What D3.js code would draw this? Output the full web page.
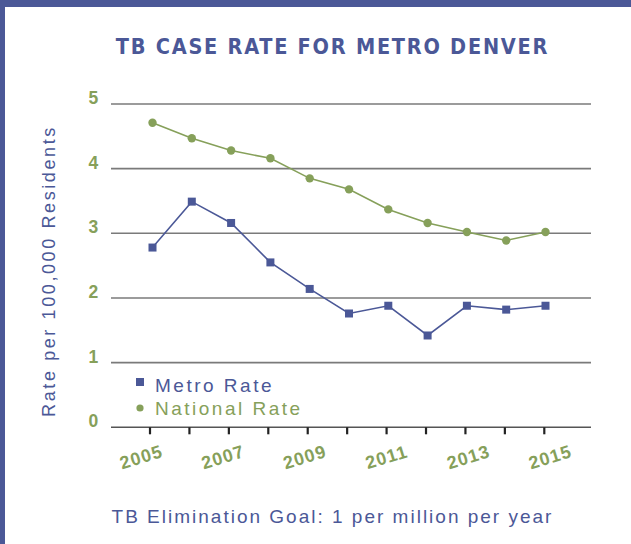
<!DOCTYPE html>
<html>
<head>
<meta charset="utf-8">
<script src="https://cdn.jsdelivr.net/npm/d3@7/dist/d3.min.js"></script>
<style>
  html, body { margin: 0; padding: 0; background: #fff; }
  svg { display: block; }
</style>
</head>
<body>
<svg id="chart" width="631" height="544"></svg>
<script>
const years = [2005, 2006, 2007, 2008, 2009, 2010, 2011, 2012, 2013, 2014, 2015];
const metroRate = [2.78, 3.49, 3.16, 2.55, 2.14, 1.76, 1.88, 1.42, 1.88, 1.82, 1.88];
const nationalRate = [4.71, 4.47, 4.28, 4.16, 3.85, 3.68, 3.37, 3.16, 3.02, 2.89, 3.02];
const yTicks = [0, 1, 2, 3, 4, 5];
const yearLabels = [2005, 2007, 2009, 2011, 2013, 2015];

const blue = "#4b5897";
const green = "#86a05a";
const narrow = "'Liberation Sans Narrow', 'DejaVu Sans Condensed', sans-serif";
const sans = "'Liberation Sans', Arial, sans-serif";

const svg = d3.select("#chart");

// frame
svg.append("rect").attr("x", 0).attr("y", 0).attr("width", 631).attr("height", 7).attr("fill", blue);
svg.append("rect").attr("x", 0).attr("y", 0).attr("width", 5).attr("height", 544).attr("fill", blue);

const y = d3.scaleLinear().domain([0, 5]).range([427.3, 104]);
const xPoint = d3.scaleLinear().domain([2005, 2015]).range([152.5, 545.5]);
const xTick = d3.scaleLinear().domain([2005, 2015]).range([150, 544.3]);
const xLabel = d3.scaleLinear().domain([2005, 2015]).range([143, 552]);
const gridX0 = 111, gridX1 = 591;

// title
svg.append("text")
  .attr("x", 332.5).attr("y", 54.3)
  .attr("text-anchor", "middle")
  .attr("font-family", narrow)
  .attr("font-weight", "bold")
  .attr("font-size", 21.5)
  .attr("letter-spacing", 1.75)
  .attr("fill", blue)
  .text("TB CASE RATE FOR METRO DENVER");

// gridlines
svg.append("g")
  .selectAll("line")
  .data(yTicks)
  .join("line")
  .attr("x1", gridX0).attr("x2", gridX1)
  .attr("y1", d => y(d)).attr("y2", d => y(d))
  .attr("stroke", d => d === 0 ? "#555" : "#7a7a7a")
  .attr("stroke-width", 1.6);

// y labels
svg.append("g")
  .selectAll("text")
  .data(yTicks)
  .join("text")
  .attr("x", 93.3).attr("y", d => y(d))
  .attr("text-anchor", "middle")
  .attr("font-family", sans)
  .attr("font-weight", "bold")
  .attr("font-size", 17.5)
  .attr("fill", green)
  .text(d => d);

// x ticks
svg.append("g")
  .selectAll("line")
  .data(years)
  .join("line")
  .attr("x1", d => xTick(d)).attr("x2", d => xTick(d))
  .attr("y1", y(0)).attr("y2", y(0) + 7)
  .attr("stroke", "#222")
  .attr("stroke-width", 2.2);

// x labels
svg.append("g")
  .selectAll("text")
  .data(yearLabels)
  .join("text")
  .attr("transform", d => "translate(" + xLabel(d) + "," + 463 + ") rotate(-17)")
  .attr("text-anchor", "middle")
  .attr("font-family", sans)
  .attr("font-weight", "bold")
  .attr("font-size", 18)
  .attr("letter-spacing", 1)
  .attr("fill", green)
  .text(d => d);

// y axis title
svg.append("text")
  .attr("transform", "translate(55,271) rotate(-90)")
  .attr("text-anchor", "middle")
  .attr("font-family", sans)
  .attr("font-size", 18)
  .attr("letter-spacing", 2.6)
  .attr("fill", blue)
  .text("Rate per 100,000 Residents");

const line = d3.line()
  .x((d, i) => xPoint(years[i]))
  .y(d => y(d));

// national
svg.append("path")
  .datum(nationalRate)
  .attr("d", line)
  .attr("fill", "none")
  .attr("stroke", green)
  .attr("stroke-width", 1.6);
svg.append("g")
  .selectAll("circle")
  .data(nationalRate)
  .join("circle")
  .attr("cx", (d, i) => xPoint(years[i]))
  .attr("cy", d => y(d))
  .attr("r", 4.2)
  .attr("fill", green);

// metro
svg.append("path")
  .datum(metroRate)
  .attr("d", line)
  .attr("fill", "none")
  .attr("stroke", blue)
  .attr("stroke-width", 1.6);
svg.append("g")
  .selectAll("rect")
  .data(metroRate)
  .join("rect")
  .attr("x", (d, i) => xPoint(years[i]) - 4)
  .attr("y", d => y(d) - 4)
  .attr("width", 8)
  .attr("height", 8)
  .attr("fill", blue);

// legend
const legend = svg.append("g");
legend.append("rect")
  .attr("x", 136).attr("y", 378).attr("width", 8).attr("height", 8)
  .attr("fill", blue);
legend.append("text")
  .attr("x", 155).attr("y", 391.5)
  .attr("font-family", sans)
  .attr("font-size", 19)
  .attr("letter-spacing", 2.5)
  .attr("fill", blue)
  .text("Metro Rate");
legend.append("circle")
  .attr("cx", 140).attr("cy", 408).attr("r", 3.6)
  .attr("fill", green);
legend.append("text")
  .attr("x", 155).attr("y", 415)
  .attr("font-family", sans)
  .attr("font-size", 19)
  .attr("letter-spacing", 2.5)
  .attr("fill", green)
  .text("National Rate");

// footnote
svg.append("text")
  .attr("x", 332.5).attr("y", 523)
  .attr("text-anchor", "middle")
  .attr("font-family", sans)
  .attr("font-size", 19)
  .attr("letter-spacing", 2.0)
  .attr("fill", blue)
  .text("TB Elimination Goal: 1 per million per year");
</script>
</body>
</html>
